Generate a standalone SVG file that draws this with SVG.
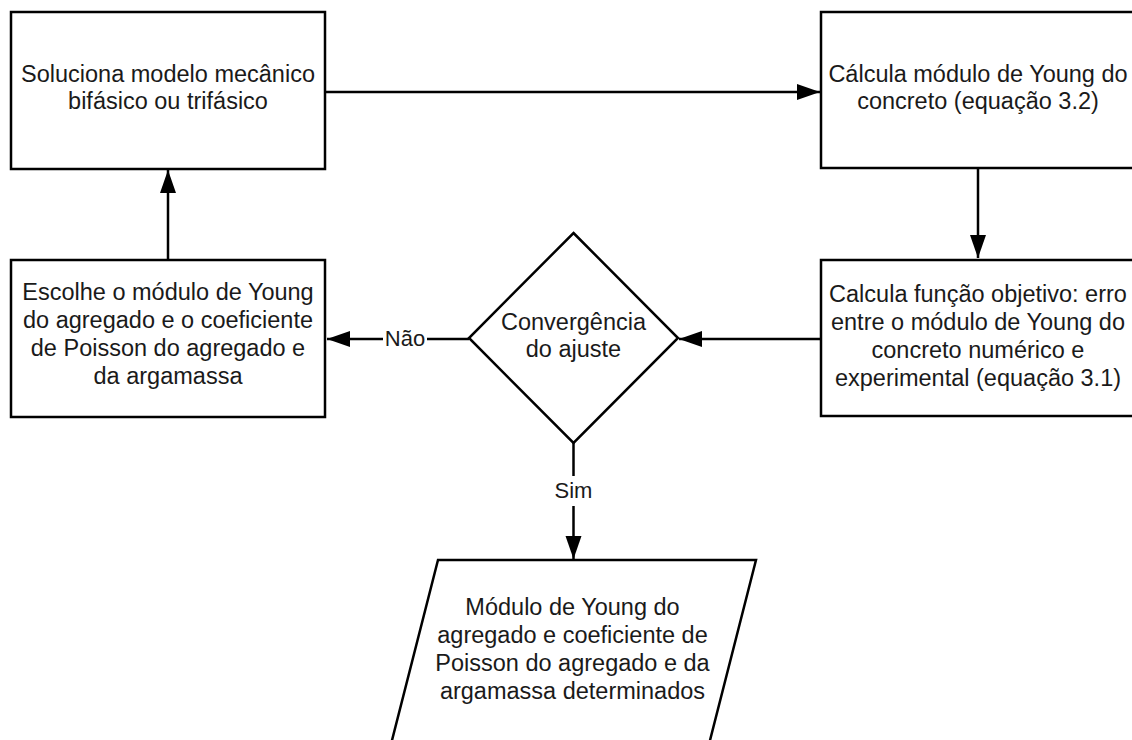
<svg xmlns="http://www.w3.org/2000/svg" width="1132" height="740" viewBox="0 0 1132 740">
  <style>
    .shape { fill: #ffffff; stroke: #000000; stroke-width: 2.5; }
    .label { font-family: "Liberation Sans", Arial, sans-serif; font-size: 23.5px; fill: #1a1a1a; text-anchor: middle; }
    .edge { fill: none; stroke: #000000; stroke-width: 2.5; }
    .edge-label { font-family: "Liberation Sans", Arial, sans-serif; font-size: 22px; fill: #1a1a1a; text-anchor: middle; }
  </style>
  <defs>
    <marker id="arrow" markerUnits="userSpaceOnUse" markerWidth="24" markerHeight="18" refX="23" refY="8" orient="auto">
      <path d="M0,0 L23,8 L0,16 z" fill="#000000"/>
    </marker>
  </defs>
  <rect width="1132" height="740" fill="#ffffff"/>

  <g id="connectors">
    <path class="edge" d="M325,92 H820" marker-end="url(#arrow)"/>
    <path class="edge" d="M978,168 V258" marker-end="url(#arrow)"/>
    <path class="edge" d="M821,339 H679" marker-end="url(#arrow)"/>
    <path class="edge" d="M469,339 H327" marker-end="url(#arrow)"/>
    <path class="edge" d="M168,260 V170" marker-end="url(#arrow)"/>
    <path class="edge" d="M573.5,443 V559" marker-end="url(#arrow)"/>
    <rect x="383" y="325" width="44" height="28" fill="#ffffff"/>
    <text class="edge-label" x="405" y="346">Não</text>
    <rect x="550" y="476" width="47" height="30" fill="#ffffff"/>
    <text class="edge-label" x="573.5" y="498">Sim</text>
  </g>

  <g id="solve-model">
    <rect class="shape" x="11" y="12" width="314" height="157"/>
    <text class="label" x="168" y="82">Soluciona modelo mecânico</text>
    <text class="label" x="168" y="109">bifásico ou trifásico</text>
  </g>

  <g id="compute-young">
    <rect class="shape" x="821" y="12" width="314" height="156"/>
    <text class="label" x="978" y="82">Cálcula módulo de Young do</text>
    <text class="label" x="978" y="109">concreto (equação 3.2)</text>
  </g>

  <g id="objective-function">
    <rect class="shape" x="821" y="260" width="314" height="156"/>
    <text class="label" x="978" y="302">Calcula função objetivo: erro</text>
    <text class="label" x="978" y="330">entre o módulo de Young do</text>
    <text class="label" x="978" y="358">concreto numérico e</text>
    <text class="label" x="978" y="386">experimental (equação 3.1)</text>
  </g>

  <g id="convergence">
    <polygon class="shape" points="573.5,233 678,338 573.5,443 469,338"/>
    <text class="label" x="573.5" y="330">Convergência</text>
    <text class="label" x="573.5" y="357">do ajuste</text>
  </g>

  <g id="choose-parameters">
    <rect class="shape" x="11" y="260" width="314" height="157"/>
    <text class="label" x="168" y="300">Escolhe o módulo de Young</text>
    <text class="label" x="168" y="328">do agregado e o coeficiente</text>
    <text class="label" x="168" y="356">de Poisson do agregado e</text>
    <text class="label" x="168" y="384">da argamassa</text>
  </g>

  <g id="result">
    <polygon class="shape" points="438,560 756,560 706,756 388,756"/>
    <text class="label" x="572.5" y="615">Módulo de Young do</text>
    <text class="label" x="572.5" y="643">agregado e coeficiente de</text>
    <text class="label" x="572.5" y="671">Poisson do agregado e da</text>
    <text class="label" x="572.5" y="699">argamassa determinados</text>
  </g>
</svg>
